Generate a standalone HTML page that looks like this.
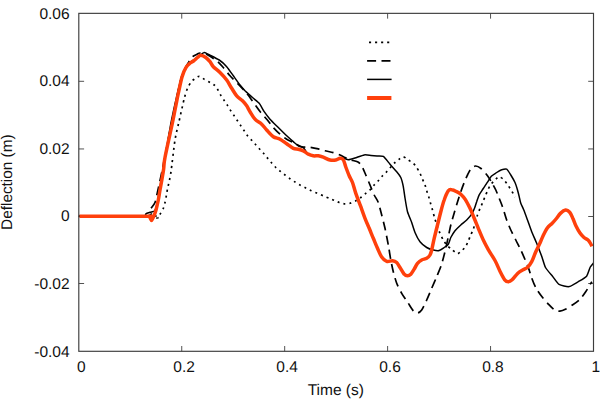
<!DOCTYPE html>
<html><head><meta charset="utf-8"><title>Deflection vs Time</title><style>
html,body{margin:0;padding:0;background:#fff}
svg{display:block}
text{font-family:"Liberation Sans",sans-serif;fill:#111;text-rendering:geometricPrecision}
</style></head><body>
<svg width="600" height="402" viewBox="0 0 600 402">
<rect width="600" height="402" fill="#fff"/>
<g fill="none" stroke="#404040" stroke-width="0.9">
<path d="M181.74,351.3v-5.3M181.74,13.35v5.3"/><path d="M284.68,351.3v-5.3M284.68,13.35v5.3"/><path d="M387.62,351.3v-5.3M387.62,13.35v5.3"/><path d="M490.56,351.3v-5.3M490.56,13.35v5.3"/><path d="M78.8,81.30h5.3M593.5,81.30h-5.3"/><path d="M78.8,148.95h5.3M593.5,148.95h-5.3"/><path d="M78.8,216.50h5.3M593.5,216.50h-5.3"/><path d="M78.8,283.50h5.3M593.5,283.50h-5.3"/>
</g>
<g fill="none" stroke="#000" stroke-linejoin="round">
<path d="M78.8,216.2C88.8,216.2 143.6,215.8 154.0,216.0C164.4,216.2 156.1,218.3 157.0,218.0C157.9,217.7 159.6,214.8 160.5,213.5C161.4,212.2 162.9,209.5 163.5,208.0C164.1,206.5 164.6,204.0 165.0,202.5C165.4,201.0 165.9,198.3 166.2,196.5C166.5,194.7 166.9,192.1 167.5,189.0C168.1,185.9 169.8,179.5 170.8,173.0C171.8,166.5 173.9,146.7 175.0,140.0C176.1,133.3 177.6,127.5 178.8,122.5C179.9,117.5 182.5,106.1 183.3,102.5C184.1,98.9 184.4,97.7 185.0,95.8C185.6,93.9 186.7,90.1 187.5,88.3C188.3,86.5 189.9,83.7 190.8,82.5C191.7,81.3 193.1,80.0 194.2,79.2C195.3,78.4 197.9,76.3 199.2,76.3C200.5,76.3 202.8,78.4 204.2,79.2C205.6,80.0 208.7,81.7 210.0,82.5C211.3,83.3 213.2,84.1 214.2,85.0C215.2,85.9 216.6,87.8 217.5,89.2C218.4,90.6 219.9,93.9 220.8,95.4C221.7,96.9 223.3,99.1 224.2,100.4C225.1,101.7 226.6,104.0 227.5,105.4C228.4,106.8 229.9,109.4 230.8,110.8C231.7,112.2 233.3,114.5 234.2,115.8C235.1,117.1 236.6,119.5 237.5,120.8C238.4,122.1 239.9,124.5 240.8,125.8C241.7,127.1 243.3,129.5 244.2,130.8C245.1,132.1 246.5,134.5 247.5,135.8C248.5,137.1 250.6,139.1 251.7,140.3C252.8,141.5 254.7,143.6 255.8,144.8C256.9,146.0 258.9,148.3 260.0,149.5C261.1,150.7 263.1,152.8 264.2,154.0C265.3,155.2 267.0,157.5 268.0,158.7C269.0,159.9 270.7,161.8 271.7,163.0C272.7,164.2 274.7,166.4 275.8,167.5C276.9,168.6 279.1,170.3 280.3,171.3C281.5,172.3 283.7,174.0 285.0,175.0C286.3,176.0 288.7,177.8 290.0,178.7C291.3,179.6 293.7,181.2 295.0,182.0C296.3,182.8 298.6,184.2 300.0,185.0C301.4,185.8 304.4,187.3 305.8,188.0C307.2,188.7 309.3,189.8 310.8,190.5C312.3,191.2 315.0,192.3 316.7,193.0C318.4,193.7 321.6,195.1 323.3,195.8C325.0,196.5 327.7,197.7 329.2,198.3C330.7,198.9 332.9,199.7 334.2,200.3C335.5,200.9 337.9,202.0 339.2,202.5C340.5,203.0 342.8,203.7 344.2,203.8C345.6,203.9 348.5,203.7 350.0,203.3C351.5,202.9 354.4,201.6 355.8,200.8C357.2,200.0 359.5,198.5 360.8,197.5C362.1,196.5 364.5,194.4 365.8,193.3C367.1,192.2 369.7,190.3 370.8,189.2C371.9,188.1 373.2,186.1 374.2,185.0C375.2,183.9 377.2,182.0 378.3,180.8C379.4,179.6 381.4,177.0 382.5,175.8C383.6,174.6 385.6,172.9 386.7,171.7C387.8,170.5 389.7,168.2 390.8,167.0C391.9,165.8 393.9,163.5 395.0,162.5C396.1,161.5 398.1,160.0 399.2,159.2C400.3,158.4 402.1,156.7 403.3,156.8C404.5,156.9 407.0,159.1 408.3,160.0C409.6,160.9 412.2,162.3 413.3,163.3C414.4,164.3 415.8,166.2 416.7,167.5C417.6,168.8 419.2,171.7 420.0,173.3C420.8,174.9 421.8,177.6 422.5,179.2C423.2,180.8 424.4,183.5 425.0,185.0C425.6,186.5 426.2,189.2 426.7,190.8C427.2,192.4 428.2,195.1 428.7,196.7C429.2,198.3 429.9,201.0 430.4,202.8C430.9,204.6 431.9,207.8 432.5,210.0C433.1,212.2 434.3,217.0 435.0,219.2C435.7,221.4 436.8,224.8 437.5,226.7C438.2,228.6 439.2,231.5 440.0,233.3C440.8,235.1 442.3,238.3 443.3,240.0C444.3,241.7 446.3,244.5 447.5,245.8C448.7,247.1 451.2,248.9 452.5,250.0C453.8,251.1 456.2,253.7 457.5,253.7C458.8,253.7 461.4,251.0 462.5,250.0C463.6,249.0 465.0,247.5 465.8,246.3C466.6,245.1 467.6,242.3 468.3,240.8C469.0,239.3 470.1,236.5 470.8,235.0C471.5,233.5 472.7,230.8 473.3,229.2C473.9,227.6 474.4,225.2 475.0,223.3C475.6,221.4 476.8,217.0 477.5,215.0C478.2,213.0 479.3,210.1 480.0,208.5C480.7,206.9 481.8,204.6 482.5,203.0C483.2,201.4 484.3,198.3 485.0,196.7C485.7,195.1 486.8,192.3 487.5,190.8C488.2,189.3 489.2,187.0 490.0,185.8C490.8,184.6 492.4,182.7 493.3,181.7C494.2,180.7 495.9,179.0 496.7,178.3C497.5,177.6 498.3,176.6 499.2,176.7C500.1,176.8 502.3,178.3 503.3,179.2C504.3,180.1 505.8,182.1 506.7,183.3C507.6,184.5 509.1,186.9 510.0,188.3C510.9,189.7 512.6,192.5 513.3,193.7C514.0,194.9 514.8,196.6 515.0,197.0" stroke-width="1.7" stroke-dasharray="2.1 3.95" stroke-dashoffset="3"/>
<path d="M78.8,216.2C87.8,216.2 136.4,217.0 146.0,216.0C155.6,215.0 149.3,210.8 150.5,209.0C151.7,207.2 154.1,204.8 155.0,202.5C155.9,200.2 156.6,196.1 157.5,192.0C158.4,187.9 160.0,180.7 161.8,172.0C163.6,163.3 168.8,136.9 170.8,127.0C172.8,117.1 175.4,104.7 176.8,98.0C178.2,91.3 180.3,81.3 181.6,77.0C182.9,72.7 185.1,68.7 186.5,66.0C187.9,63.3 190.9,58.6 192.3,57.0C193.7,55.4 196.0,54.8 197.0,54.3C198.0,53.8 198.8,53.0 200.0,53.0C201.2,53.0 203.8,53.0 206.0,54.0C208.2,55.0 214.4,59.0 216.7,60.8C219.0,62.6 221.5,65.5 223.3,67.5C225.1,69.5 228.0,73.6 230.0,75.8C232.0,78.0 236.1,81.9 238.3,84.2C240.5,86.5 244.9,91.2 246.7,93.3C248.5,95.4 250.5,98.3 251.7,100.0C252.9,101.7 254.6,104.1 255.8,105.8C257.0,107.5 259.3,110.7 260.8,112.5C262.3,114.3 265.0,117.2 266.7,119.2C268.4,121.2 271.5,125.5 273.3,127.5C275.1,129.5 278.2,132.6 280.0,134.2C281.8,135.8 284.9,138.1 286.7,139.2C288.5,140.3 291.3,141.5 293.3,142.5C295.3,143.5 299.5,146.1 301.7,146.7C303.9,147.3 307.8,146.9 310.0,147.2C312.2,147.5 316.3,148.4 318.3,148.9C320.3,149.4 323.0,150.3 325.0,150.8C327.0,151.3 331.3,152.0 333.3,152.6C335.3,153.2 338.4,154.3 340.0,155.0C341.6,155.7 343.7,156.9 345.0,157.5C346.3,158.1 348.3,159.1 350.0,159.7C351.7,160.3 355.9,160.9 357.5,161.7C359.1,162.5 360.6,164.0 361.7,165.8C362.8,167.6 364.7,172.4 365.8,175.0C366.9,177.6 368.9,182.3 370.0,185.0C371.1,187.7 373.1,192.7 374.2,195.0C375.3,197.3 377.3,199.8 378.3,202.5C379.3,205.2 380.8,211.6 381.7,215.0C382.6,218.4 384.1,224.3 385.0,228.3C385.9,232.3 387.5,240.8 388.3,245.0C389.1,249.2 390.1,256.4 390.8,260.0C391.5,263.6 392.5,268.6 393.3,271.7C394.1,274.8 395.6,280.4 396.7,283.3C397.8,286.2 400.2,290.6 401.7,293.3C403.2,296.0 406.8,301.0 408.3,303.3C409.8,305.6 412.1,309.5 413.3,310.8C414.5,312.1 416.4,313.1 417.5,313.0C418.6,312.9 420.5,311.7 421.7,310.0C422.9,308.3 425.4,302.9 426.7,300.0C428.0,297.1 430.4,291.4 431.7,288.3C433.0,285.2 435.4,279.9 436.7,276.7C438.0,273.5 440.5,267.8 441.7,264.0C442.9,260.2 444.9,251.9 445.8,248.3C446.7,244.7 447.6,239.8 448.3,236.7C449.0,233.6 450.0,228.2 450.8,225.0C451.6,221.8 453.3,216.1 454.2,213.0C455.1,209.9 456.6,204.8 457.5,202.0C458.4,199.2 459.9,194.3 460.8,191.7C461.7,189.1 463.3,184.7 464.2,182.5C465.1,180.3 466.6,176.8 467.5,175.0C468.4,173.2 469.7,170.4 470.8,169.2C471.9,168.0 474.0,166.1 475.4,166.0C476.8,165.9 479.4,167.2 481.0,168.5C482.6,169.8 486.1,173.9 487.5,175.8C488.9,177.7 490.6,180.6 491.7,182.5C492.8,184.4 494.8,187.9 495.8,190.0C496.8,192.1 498.3,196.1 499.2,198.3C500.1,200.5 501.5,203.8 502.5,206.7C503.5,209.6 505.6,216.9 506.7,220.0C507.8,223.1 509.6,227.3 510.8,230.0C512.0,232.7 514.5,237.3 515.8,240.0C517.1,242.7 519.6,247.4 520.8,250.0C522.0,252.6 524.0,257.1 525.0,259.5C526.0,261.9 527.6,265.7 528.5,268.0C529.4,270.3 530.4,274.4 531.4,277.1C532.4,279.8 534.5,285.4 536.0,288.1C537.5,290.8 540.7,295.1 542.4,297.3C544.1,299.5 547.3,303.0 548.9,304.7C550.5,306.4 552.9,308.9 554.4,309.8C555.9,310.7 558.4,311.2 559.9,311.1C561.4,311.0 563.7,310.2 565.4,309.3C567.1,308.4 570.8,306.0 572.8,304.7C574.8,303.4 578.4,300.9 580.1,299.2C581.8,297.5 584.4,293.7 585.7,291.8C587.0,289.9 589.0,286.3 589.8,285.0C590.6,283.7 591.6,282.2 591.9,281.8" stroke-width="1.7" stroke-dasharray="9 5.4" stroke-dashoffset="7.2"/>
<path d="M78.8,216.2C85.0,216.2 134.3,216.4 141.0,216.2C147.7,215.9 145.1,214.1 146.0,213.7C146.9,213.3 149.2,212.6 150.0,212.3C150.8,212.0 153.9,211.5 154.5,211.0C155.1,210.5 156.0,208.1 156.3,207.0C156.6,205.9 157.6,201.7 157.9,200.0C158.2,198.3 159.1,193.0 159.6,190.0C160.1,187.0 161.7,176.5 162.8,170.0C163.9,163.5 169.2,132.3 170.6,125.0C172.0,117.7 175.5,101.8 176.6,97.0C177.7,92.2 180.6,80.0 181.5,77.0C182.4,74.0 185.0,68.5 185.8,67.0C186.7,65.5 189.1,63.3 190.0,62.5C190.9,61.7 194.0,59.7 195.0,59.0C196.0,58.3 199.1,55.9 200.0,55.3C200.9,54.7 203.1,52.8 203.8,52.6C204.4,52.4 206.4,53.3 207.0,53.6C207.6,53.9 208.8,54.6 210.0,55.2C211.2,55.8 217.5,58.9 219.2,60.0C220.9,61.1 225.3,65.1 226.7,66.7C228.1,68.3 232.0,74.0 233.3,75.8C234.6,77.6 238.8,83.5 240.0,85.0C241.2,86.5 243.8,89.5 245.0,90.8C246.2,92.0 251.1,96.2 252.5,97.5C253.9,98.8 258.0,101.9 259.2,103.3C260.4,104.7 263.1,110.1 264.2,111.7C265.3,113.3 268.6,117.6 270.0,119.2C271.4,120.8 276.6,125.8 278.3,127.5C280.0,129.2 285.2,134.4 286.7,135.8C288.2,137.2 292.1,140.7 293.3,141.7C294.5,142.7 297.3,145.2 298.3,145.8C299.3,146.4 302.5,147.0 303.3,147.6C304.1,148.2 305.5,150.8 306.0,151.5C306.5,152.2 307.6,153.8 308.3,154.2C309.0,154.6 312.3,155.6 313.3,155.8C314.3,156.0 317.3,155.7 318.3,155.8C319.3,155.9 322.1,156.8 323.3,157.2C324.5,157.6 328.8,159.7 330.0,160.0C331.2,160.3 334.8,160.2 335.8,160.0C336.8,159.8 339.2,158.6 340.0,158.4C340.8,158.2 342.7,158.1 343.5,158.2C344.3,158.3 347.2,159.7 348.3,159.7C349.4,159.7 353.4,158.5 355.0,158.0C356.6,157.5 362.6,155.2 364.2,154.9C365.8,154.6 369.7,155.3 371.0,155.4C372.3,155.5 375.8,155.8 377.0,155.9C378.2,156.0 382.0,155.6 383.3,156.4C384.6,157.2 388.7,162.7 390.0,164.2C391.3,165.7 395.6,170.4 396.7,171.7C397.8,173.0 400.1,176.0 400.8,177.5C401.5,179.0 402.9,184.6 403.3,186.7C403.7,188.8 404.6,195.5 405.0,198.0C405.4,200.5 406.8,209.2 407.5,211.7C408.2,214.1 410.9,220.4 411.7,222.5C412.4,224.6 414.2,230.6 415.0,232.5C415.8,234.4 418.8,240.2 420.0,241.7C421.2,243.2 425.4,246.7 426.7,247.5C428.0,248.3 432.1,249.7 433.3,250.0C434.6,250.3 438.1,250.8 439.2,250.5C440.3,250.2 443.3,248.1 444.2,247.5C445.1,246.9 447.6,245.2 448.3,244.2C449.0,243.2 450.1,238.8 450.8,237.5C451.5,236.2 454.0,232.1 455.0,230.8C456.0,229.6 459.6,226.1 460.8,225.0C462.0,223.9 465.6,221.1 466.7,220.0C467.8,218.9 470.9,215.4 471.7,214.2C472.5,213.0 474.0,209.6 474.5,208.3C475.0,207.1 476.2,203.0 476.7,201.7C477.2,200.3 478.5,196.1 479.2,194.8C479.9,193.5 482.5,189.8 483.3,188.5C484.1,187.2 486.7,183.4 487.5,182.2C488.3,181.0 490.4,177.3 491.3,176.3C492.2,175.3 495.7,173.2 496.7,172.5C497.7,171.8 500.7,170.0 501.7,169.7C502.7,169.4 505.8,168.7 506.7,169.2C507.6,169.7 510.0,173.7 510.8,175.0C511.6,176.3 514.3,181.0 515.0,182.5C515.7,184.0 517.1,188.6 517.5,190.0C517.9,191.4 518.9,195.4 519.2,196.7C519.5,198.0 520.3,202.0 520.8,203.3C521.3,204.6 523.1,208.3 523.8,210.0C524.5,211.7 526.7,217.8 527.5,220.0C528.3,222.2 530.8,229.4 531.7,231.7C532.6,234.0 535.7,240.8 536.7,243.3C537.7,245.8 540.8,253.9 541.7,256.3C542.6,258.7 544.4,265.5 545.5,267.5C546.6,269.5 551.1,274.5 552.5,276.2C553.9,277.9 557.3,283.4 559.0,284.4C560.7,285.4 567.2,286.9 569.1,286.6C571.0,286.3 576.5,282.7 578.3,281.7C580.0,280.7 585.4,277.7 586.6,276.2C587.8,274.7 589.6,268.3 590.3,267.0C591.0,265.7 593.2,263.4 593.5,263.0" stroke-width="1.5"/>
<path d="M79.4,216.3C90.7,216.3 135.3,216.3 147.0,216.3C158.7,216.4 148.7,216.1 149.3,216.5C149.9,216.9 150.2,218.1 150.6,218.8C151.0,219.5 151.2,220.6 151.5,220.6C151.8,220.6 152.1,219.5 152.6,218.6C153.1,217.7 153.7,216.4 154.3,215.0C154.9,213.6 155.3,212.5 156.0,210.0C156.7,207.5 157.6,203.3 158.3,200.0C159.0,196.7 159.1,195.0 160.0,190.0C160.9,185.0 162.7,175.4 163.5,170.0C164.3,164.6 163.5,165.4 165.0,157.5C166.5,149.6 170.7,131.1 172.5,122.5C174.3,113.9 174.8,110.7 175.8,105.8C176.8,100.9 177.2,98.1 178.3,93.3C179.4,88.5 180.8,81.0 182.1,76.7C183.4,72.4 184.8,69.5 186.2,67.2C187.5,64.9 189.0,64.0 190.2,63.0C191.4,62.0 192.3,61.9 193.5,61.0C194.7,60.1 196.3,58.5 197.5,57.5C198.7,56.5 199.4,55.3 200.8,55.3C202.2,55.3 204.3,56.4 205.8,57.5C207.3,58.6 208.8,60.2 210.0,61.7C211.2,63.2 211.6,64.9 213.3,66.7C215.0,68.5 217.8,70.3 220.0,72.5C222.2,74.7 224.8,77.4 226.7,80.0C228.6,82.6 230.0,85.7 231.7,88.3C233.4,90.9 234.9,93.7 236.7,95.8C238.5,97.9 240.8,99.1 242.5,100.8C244.2,102.5 245.4,104.0 246.7,105.8C247.9,107.6 248.6,109.5 250.0,111.7C251.4,113.9 253.1,117.1 255.0,119.2C256.9,121.3 259.8,122.4 261.7,124.2C263.6,126.0 264.8,127.9 266.7,130.0C268.6,132.1 271.1,135.2 273.3,136.7C275.5,138.2 277.8,138.0 280.0,139.2C282.2,140.4 284.5,142.3 286.7,143.8C288.9,145.3 291.4,147.4 293.3,148.3C295.2,149.2 296.6,148.8 298.3,149.2C300.0,149.6 301.6,150.0 303.3,150.8C305.0,151.6 306.6,153.4 308.3,154.2C310.0,155.0 311.6,155.5 313.3,155.8C315.0,156.1 316.6,155.6 318.3,155.8C320.0,156.0 321.4,156.5 323.3,157.2C325.2,157.9 327.9,159.5 330.0,160.0C332.1,160.5 334.1,160.3 335.8,160.0C337.5,159.7 338.8,158.3 340.0,158.2C341.2,158.1 342.2,158.1 343.2,159.6C344.2,161.1 344.8,164.3 345.8,167.0C346.8,169.7 348.1,173.2 349.2,175.8C350.3,178.4 351.4,179.6 352.5,182.5C353.6,185.4 354.4,189.3 355.8,193.3C357.2,197.3 359.3,202.5 360.8,206.7C362.3,210.9 363.6,214.7 365.0,218.3C366.4,221.9 367.8,225.0 369.2,228.3C370.6,231.6 371.9,235.0 373.3,238.3C374.7,241.6 376.1,245.2 377.5,248.3C378.9,251.4 380.2,254.8 381.7,257.0C383.2,259.2 384.9,260.7 386.7,261.3C388.5,261.9 390.8,260.6 392.5,260.8C394.2,261.0 395.4,261.4 396.7,262.5C397.9,263.6 398.8,265.6 400.0,267.5C401.2,269.4 402.9,272.8 404.2,274.2C405.4,275.6 406.4,275.8 407.5,275.8C408.6,275.8 409.7,275.3 410.8,274.2C411.9,273.1 413.1,271.0 414.2,269.2C415.3,267.4 416.2,264.8 417.5,263.3C418.8,261.8 420.2,260.8 421.7,260.0C423.2,259.2 425.3,259.1 426.7,258.3C428.1,257.5 429.2,256.4 430.0,255.0C430.8,253.6 431.0,252.8 431.7,250.0C432.4,247.2 433.2,242.5 434.2,238.3C435.2,234.1 436.4,229.4 437.5,225.0C438.6,220.6 439.7,215.9 440.8,211.7C441.9,207.5 442.9,203.5 444.2,200.0C445.4,196.5 447.1,192.5 448.3,190.8C449.6,189.1 450.3,189.5 451.7,189.7C453.1,189.8 455.2,190.9 456.7,191.7C458.2,192.4 459.4,192.9 460.8,194.2C462.2,195.5 463.9,197.2 465.4,199.6C466.9,201.9 468.5,205.2 470.0,208.3C471.5,211.4 472.8,215.0 474.2,218.3C475.6,221.6 476.8,224.7 478.3,228.3C479.8,231.9 481.6,236.4 483.3,240.0C485.0,243.6 486.4,246.2 488.3,249.6C490.2,253.0 493.0,256.9 495.0,260.5C497.0,264.1 498.5,268.3 500.1,271.5C501.7,274.7 503.3,278.1 504.7,279.8C506.1,281.5 507.2,281.7 508.4,281.7C509.6,281.7 510.6,281.2 512.1,279.8C513.6,278.4 515.8,275.1 517.6,273.4C519.4,271.7 521.4,270.7 523.1,269.7C524.8,268.7 526.2,268.5 527.6,267.2C529.0,265.9 530.3,264.3 531.7,261.7C533.1,259.1 534.4,254.8 535.8,251.7C537.2,248.6 538.8,245.6 540.0,243.0C541.2,240.4 541.8,238.5 543.0,236.0C544.2,233.5 545.8,230.1 547.3,228.0C548.8,225.9 550.5,225.0 552.0,223.5C553.5,222.0 554.6,220.7 556.0,219.0C557.4,217.3 558.8,214.9 560.4,213.4C562.0,211.9 564.0,210.3 565.6,210.1C567.2,209.9 568.5,210.9 569.7,212.2C570.9,213.5 571.7,215.7 572.7,218.0C573.8,220.3 574.8,223.5 576.0,226.0C577.2,228.5 578.7,231.1 580.0,233.0C581.3,234.9 582.7,236.3 584.0,237.5C585.3,238.7 586.9,239.0 588.0,240.0C589.1,241.0 589.9,242.4 590.5,243.5C591.1,244.6 591.7,245.8 591.9,246.3" stroke="#ff400c" stroke-width="3.5" stroke-linecap="butt"/>
</g>
<g fill="none" stroke="#3d3d3d" stroke-width="1.15">
<rect x="78.8" y="13.35" width="514.70" height="337.95"/>
</g>
<g fill="none" stroke="#000">
<path d="M369,42.3H391" stroke-width="1.7" stroke-dasharray="2.1 3.95"/>
<path d="M367.1,60.8H390.6" stroke-width="1.7" stroke-dasharray="9 5.4"/>
<path d="M367.1,79.4H391.6" stroke-width="1.5"/>
<path d="M367.1,98H391.4" stroke="#ff400c" stroke-width="4"/>
</g>
<text transform="translate(81.20,371.70) scale(1,1)" text-anchor="middle" style="font-size:15.5px">0</text><text transform="translate(184.14,371.70) scale(1,1)" text-anchor="middle" style="font-size:15.5px">0.2</text><text transform="translate(287.08,371.70) scale(1,1)" text-anchor="middle" style="font-size:15.5px">0.4</text><text transform="translate(390.02,371.70) scale(1,1)" text-anchor="middle" style="font-size:15.5px">0.6</text><text transform="translate(492.96,371.70) scale(1,1)" text-anchor="middle" style="font-size:15.5px">0.8</text><text transform="translate(595.90,371.70) scale(1,1)" text-anchor="middle" style="font-size:15.5px">1</text><text transform="translate(69.60,18.50) scale(1,1)" text-anchor="end" style="font-size:15.5px">0.06</text><text transform="translate(69.60,86.10) scale(1,1)" text-anchor="end" style="font-size:15.5px">0.04</text><text transform="translate(69.60,153.70) scale(1,1)" text-anchor="end" style="font-size:15.5px">0.02</text><text transform="translate(69.60,221.30) scale(1,1)" text-anchor="end" style="font-size:15.5px">0</text><text transform="translate(69.60,288.90) scale(1,1)" text-anchor="end" style="font-size:15.5px">-0.02</text><text transform="translate(69.60,356.50) scale(1,1)" text-anchor="end" style="font-size:15.5px">-0.04</text><text transform="translate(335.80,394.70) scale(1,1)" text-anchor="middle" style="font-size:15.5px">Time (s)</text><text transform="translate(12.10,182.15) rotate(-90) scale(1,1)" text-anchor="middle" style="font-size:15.35px">Deflection (m)</text>
</svg>
</body></html>
